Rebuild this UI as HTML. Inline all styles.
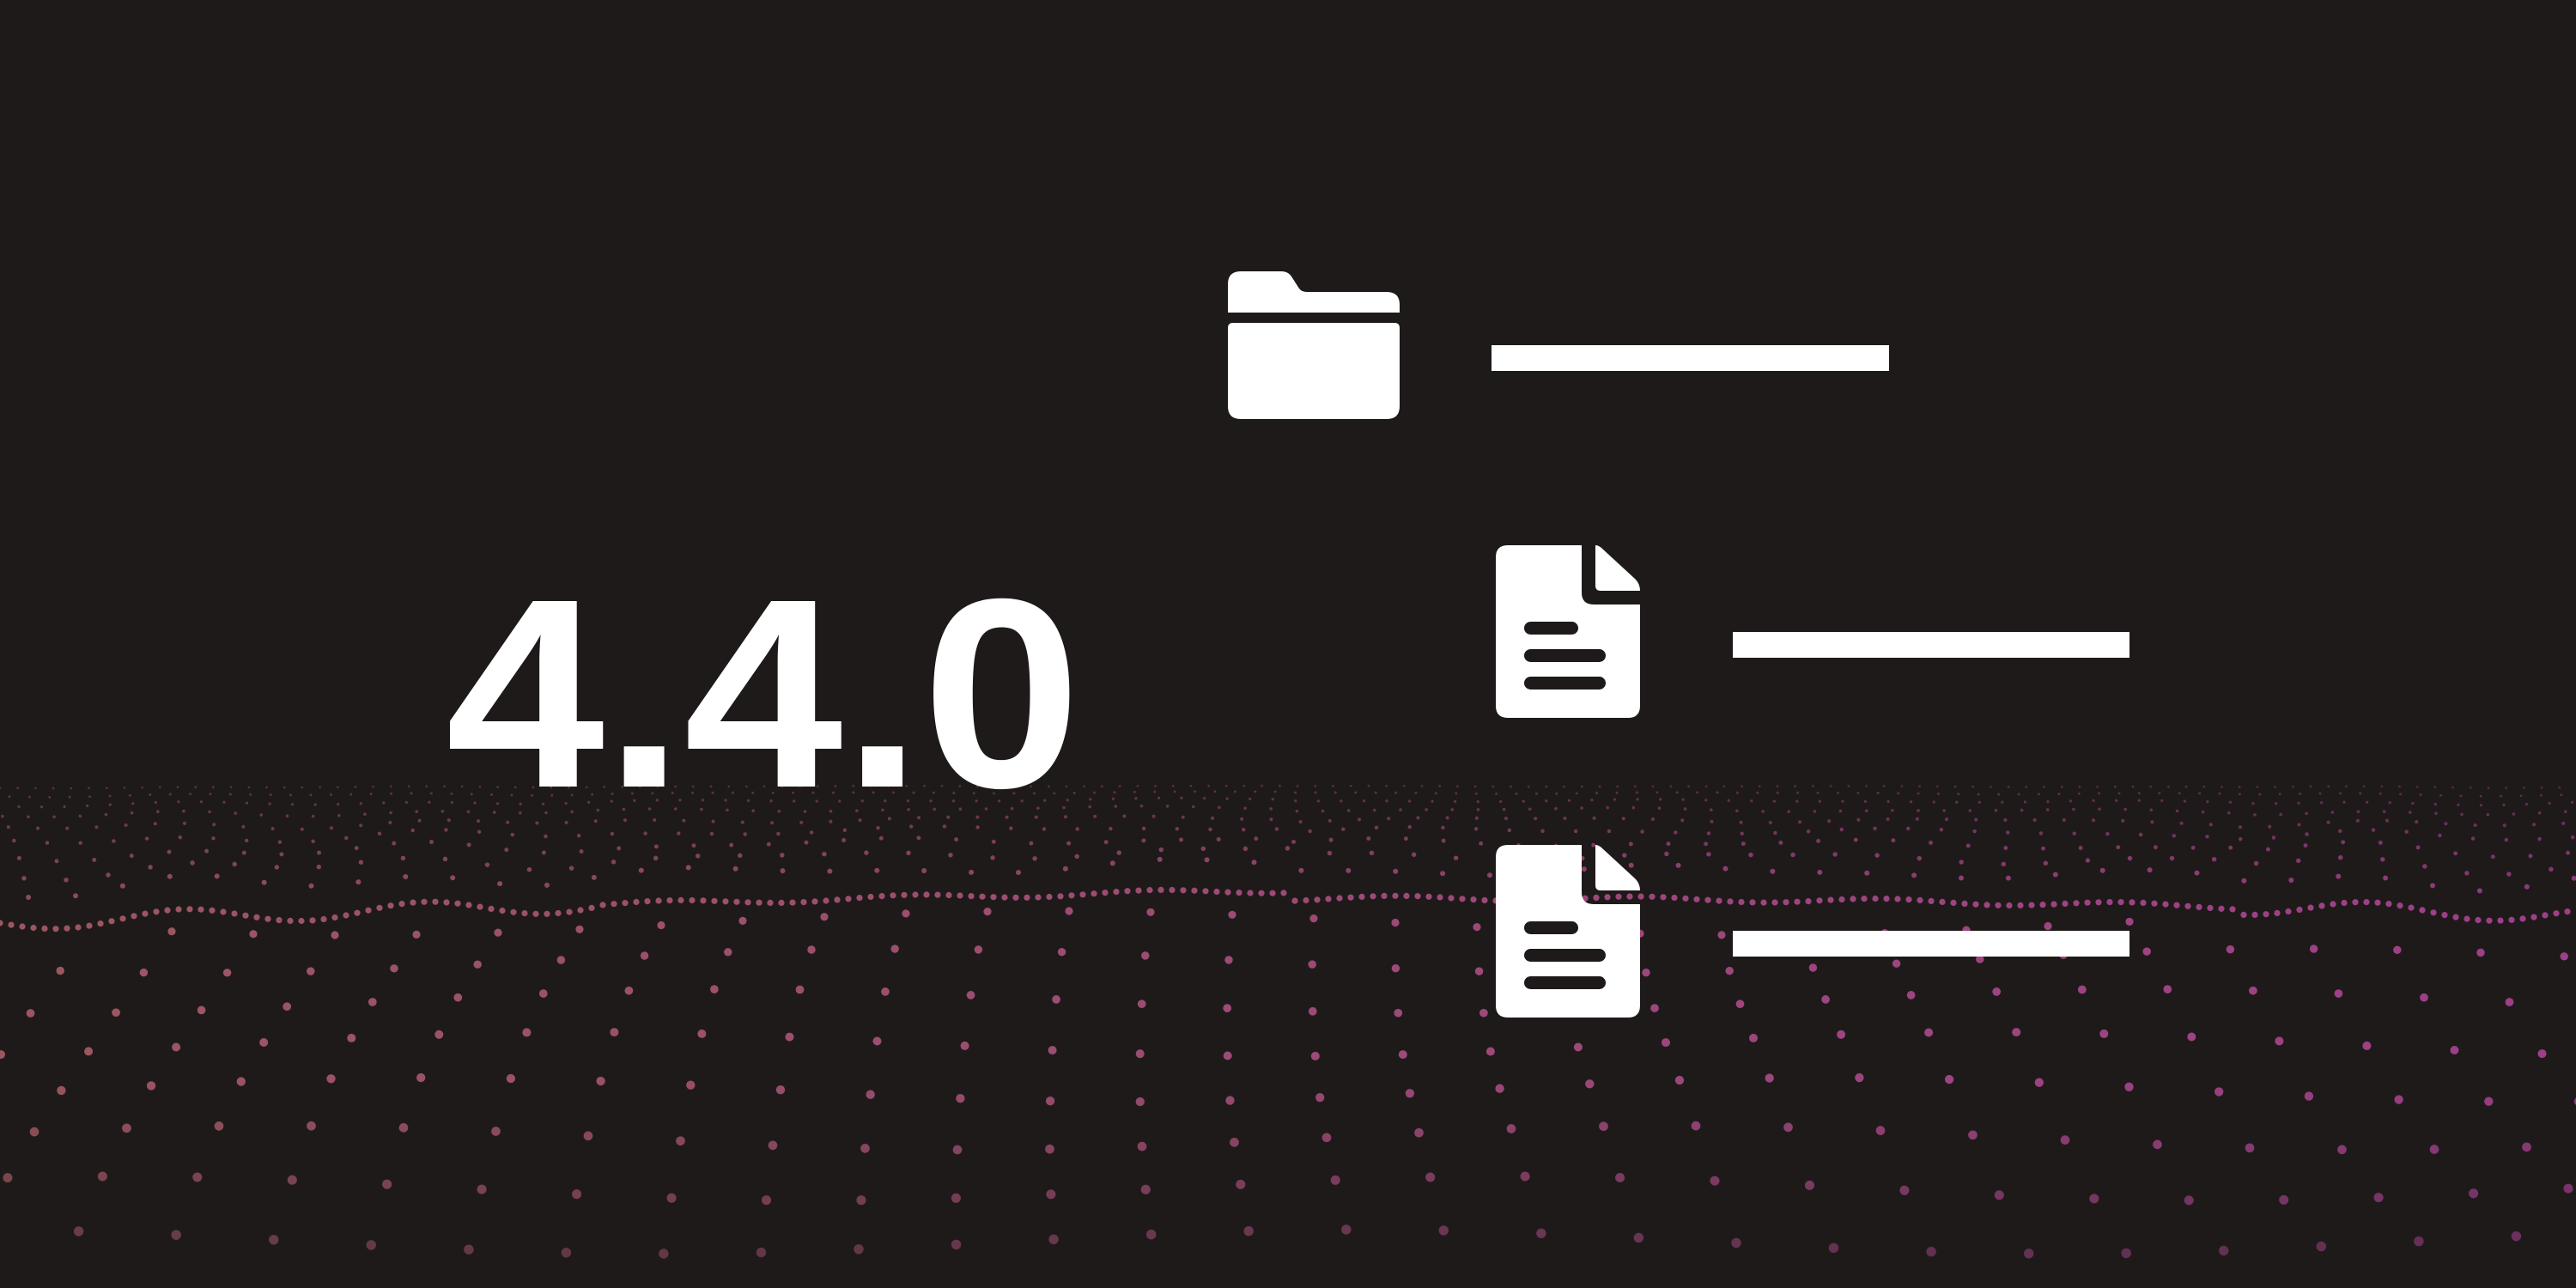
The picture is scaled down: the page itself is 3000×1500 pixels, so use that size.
<!DOCTYPE html>
<html><head><meta charset="utf-8"><style>
html,body{margin:0;padding:0;background:#1f1a1a;}
body{width:3000px;height:1500px;overflow:hidden;position:relative;}
svg{position:absolute;left:0;top:0;}
</style></head><body>
<svg id="bg" width="3000" height="1500" viewBox="0 0 3000 1500" xmlns="http://www.w3.org/2000/svg">
<rect width="3000" height="1500" fill="#1f1a1a"/>
<g id="dots"></g>
</svg>
<svg width="3000" height="1500" viewBox="0 0 3000 1500" xmlns="http://www.w3.org/2000/svg">
<text x="519" y="916" font-family="Liberation Sans, sans-serif" font-weight="bold" font-size="314" fill="#fff" textLength="740" lengthAdjust="spacingAndGlyphs">4.4.0</text>
<path d="M1445 316 H1492 Q1500 316 1504 322 L1513 336 Q1516 340 1522 340 H1615 Q1630 340 1630 355 V364 H1430 V331 Q1430 316 1445 316 Z" fill="#fff"/>
<path d="M1436 376 H1624 Q1630 376 1630 382 V473 Q1630 488 1615 488 H1445 Q1430 488 1430 473 V382 Q1430 376 1436 376 Z" fill="#fff"/>
<rect x="1737" y="402" width="463" height="30" fill="#fff"/>
<g id="doc" fill="#fff">
<path d="M1756 635 H1842 V690 Q1842 704 1856 704 H1910 V822 Q1910 836 1896 836 H1756 Q1742 836 1742 822 V649 Q1742 635 1756 635 Z"/>
<path d="M1858 635 Q1862 635 1866 639 L1904 674 Q1910 680 1910 688 H1864 Q1858 688 1858 682 Z"/>
</g>
<g fill="#1f1a1a">
<rect x="1775" y="724" width="63" height="15" rx="7.5"/>
<rect x="1775" y="756" width="95" height="15" rx="7.5"/>
<rect x="1775" y="788" width="95" height="15" rx="7.5"/>
</g>
<rect x="2018" y="736" width="462" height="30" fill="#fff"/>
<g transform="translate(0,349)">
<use href="#doc"/>
<g fill="#1f1a1a">
<rect x="1775" y="724" width="63" height="15" rx="7.5"/>
<rect x="1775" y="756" width="95" height="15" rx="7.5"/>
<rect x="1775" y="788" width="95" height="15" rx="7.5"/>
</g>
</g>
<rect x="2018" y="1084" width="462" height="30" fill="#fff"/>
</svg>
<script>
(function(){
var g=document.getElementById('dots');
var out=[];
function col(sx){var t=Math.max(0,Math.min(1,sx/3000));
 return 'rgb('+Math.round(178+2*t)+','+Math.round(98-28*t)+','+Math.round(110+48*t)+')';}
function dot(x,y,r,op,c){out.push('<circle cx="'+x.toFixed(1)+'" cy="'+y.toFixed(1)+'" r="'+r.toFixed(2)+'" fill="'+(c||col(x))+'" opacity="'+op.toFixed(2)+'"/>');}
function crestY(x){var t=x/3000;return 1075-105*t+60*t*t*1.6*(t>0.5?1:0.6)+6*Math.sin(x/45)*(x<700||x>2600?1.5:0.5);}
var y=1075,row=0,dy=44;
while(y<1510){
  var sp=95+(y-1075)*0.05;
  var off=(row*37)%sp;
  for(var x=-off+10;x<3010;x+=sp){
    var wy=y+14*Math.sin(x/260+row*0.7);
    if(wy<crestY(x)+15) continue;
    var r=4.6+(y-1075)*0.003;
    var op=0.85; if(wy>1250) op*=1-0.55*(wy-1250)/250;
    dot(x,wy,r,op);
  }
  y+=dy; dy+=3; row++;
}
for(var x=0;x<3000;x+=13){
  dot(x,crestY(x),3.6,0.85);
}
var rows=[0.06,0.12,0.19,0.27,0.36,0.46,0.57,0.69,0.82];
for(var i=0;i<rows.length;i++){
  var f=rows[i];
  var sp=18+45*f;
  for(var x=(i*11)%sp;x<3000;x+=sp){
    var base=908+(crestY(x)-10-908)*f;
    var yy=base+6*f*Math.sin(x/90+i);
    dot(x,yy,1.2+2.2*f,0.35+0.45*f);
  }
}
g.innerHTML=out.join('');
})();
</script>
</body></html>
